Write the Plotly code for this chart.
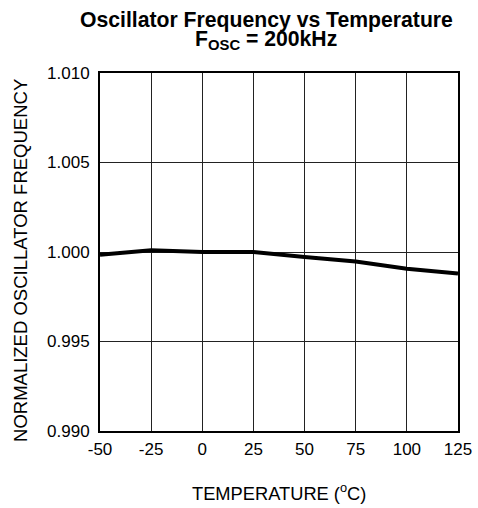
import plotly.graph_objects as go

temperature = [-50, -25, 0, 25, 50, 75, 100, 125]
norm_freq = [0.99985, 1.0001, 1.0000, 1.0000, 0.99972, 0.99947, 0.99907, 0.99880]
x_ticks = [-50, -25, 0, 25, 50, 75, 100, 125]
y_ticks = [0.990, 0.995, 1.000, 1.005, 1.010]
y_tick_labels = ["0.990", "0.995", "1.000", "1.005", "1.010"]
title_line1 = "<b>Oscillator Frequency vs Temperature</b>"
title_line2 = "<b>F<sub>OSC</sub> = 200kHz</b>"
x_title = "TEMPERATURE (<sup>o</sup>C)"
y_title = "NORMALIZED OSCILLATOR FREQUENCY"

font_family = "Liberation Sans, Arial, sans-serif"

fig = go.Figure()
fig.add_trace(go.Scatter(x=temperature, y=norm_freq, mode="lines",
                         line=dict(color="black", width=4), showlegend=False))

fig.add_annotation(text=title_line1, xref="paper", yref="paper", x=0.4637, y=1.1486,
                   xanchor="center", yanchor="middle", showarrow=False, borderpad=0,
                   font=dict(size=21.2, family=font_family, color="black"))
fig.add_annotation(text=title_line2, xref="paper", yref="paper", x=0.4637, y=1.093,
                   xanchor="center", yanchor="middle", showarrow=False, borderpad=0,
                   font=dict(size=21.2, family=font_family, color="black"))
fig.add_annotation(text=x_title, xref="paper", yref="paper", x=0.5, y=-0.2106,
                   xanchor="center", yanchor="bottom", showarrow=False,
                   font=dict(size=18.3, family=font_family, color="black"))
fig.add_annotation(text=y_title, xref="paper", yref="paper", x=-0.2207, y=0.4777,
                   xanchor="center", yanchor="middle", showarrow=False, textangle=-90,
                   font=dict(size=18.5, family=font_family, color="black"))

fig.update_layout(
    width=478, height=508,
    margin=dict(l=100, r=20, t=73, b=77),
    paper_bgcolor="white", plot_bgcolor="white",
    font=dict(family=font_family, color="black", size=17),
    xaxis=dict(
        range=[-50, 125], tickvals=x_ticks, ticktext=[str(v) for v in x_ticks],
        showgrid=True, gridcolor="#222", gridwidth=1.2,
        showline=True, linecolor="black", linewidth=2, mirror=True,
        ticks="", zeroline=False, automargin=False, ticklabelstandoff=2,
        tickfont=dict(size=17),
    ),
    yaxis=dict(
        range=[0.990, 1.010], tickvals=y_ticks, ticktext=y_tick_labels,
        showgrid=True, gridcolor="#222", gridwidth=1.2,
        showline=True, linecolor="black", linewidth=2, mirror=True,
        ticks="", zeroline=False, ticklabelstandoff=5, automargin=False,
        tickfont=dict(size=17),
    ),
)

fig.write_html("out.html", config={"displayModeBar": False},
               post_script="document.body.style.margin='0px';document.body.style.overflow='hidden';")
